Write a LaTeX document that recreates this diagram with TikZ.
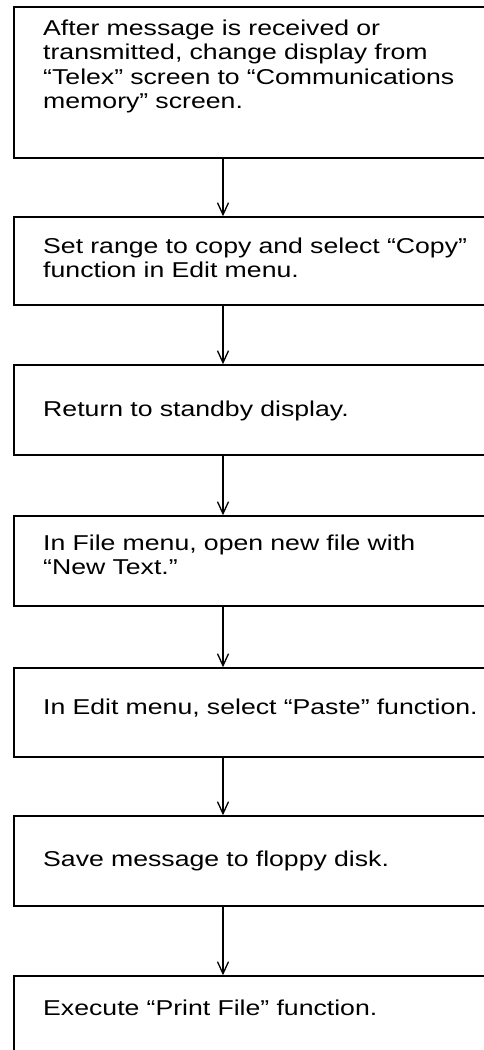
\documentclass[tikz,border=0pt]{standalone}
\usepackage{fontspec}
\setmainfont[FakeStretch=1.24]{Liberation Sans}
\usetikzlibrary{arrows.meta}
\begin{document}
\begin{tikzpicture}[x=1pt,y=-1pt,
  stepbox/.style={draw=black, line width=1.5pt, minimum width=487pt, inner sep=0pt, anchor=west},
  txt/.style={anchor=base west, inner sep=0pt, text width=440pt, align=left,
    font=\fontsize{21.5}{24.3}\selectfont},
  arr/.style={draw=black, line width=1.3pt, -{Straight Barb[length=12pt,width=11pt,line width=1.3pt]}}]
\useasboundingbox (0,0) rectangle (484,1050);
\coordinate (ax) at (223,0);
\node[stepbox, minimum height=151pt] (b1) at (13,82.5) {};
\node[stepbox, minimum height=88pt] (b2) at (13,261) {};
\node[stepbox, minimum height=90pt] (b3) at (13,410) {};
\node[stepbox, minimum height=90pt] (b4) at (13,561) {};
\node[stepbox, minimum height=89pt] (b5) at (13,712.5) {};
\node[stepbox, minimum height=90pt] (b6) at (13,861) {};
\node[stepbox, minimum height=100pt] (b7) at (13,1026) {};
\node[txt] (t1) at (43,35.5) {After message is received or\\transmitted, change display from\\“Telex” screen to “Communications\\memory” screen.};
\node[txt] (t2) at (43,253) {Set range to copy and select “Copy”\\function in Edit menu.};
\node[txt] (t3) at (43,416) {Return to standby display.};
\node[txt] (t4) at (43,550.5) {In File menu, open new file with\\“New Text.”};
\node[txt] (t5) at (43,714) {In Edit menu, select “Paste” function.};
\node[txt] (t6) at (43,866) {Save message to floppy disk.};
\node[txt] (t7) at (43,1015) {Execute “Print File” function.};
\draw[arr] (b1.south -| ax) -- (b2.north -| ax);
\draw[arr] (b2.south -| ax) -- (b3.north -| ax);
\draw[arr] (b3.south -| ax) -- (b4.north -| ax);
\draw[arr] (b4.south -| ax) -- (b5.north -| ax);
\draw[arr] (b5.south -| ax) -- (b6.north -| ax);
\draw[arr] (b6.south -| ax) -- (b7.north -| ax);
\end{tikzpicture}
\end{document}
